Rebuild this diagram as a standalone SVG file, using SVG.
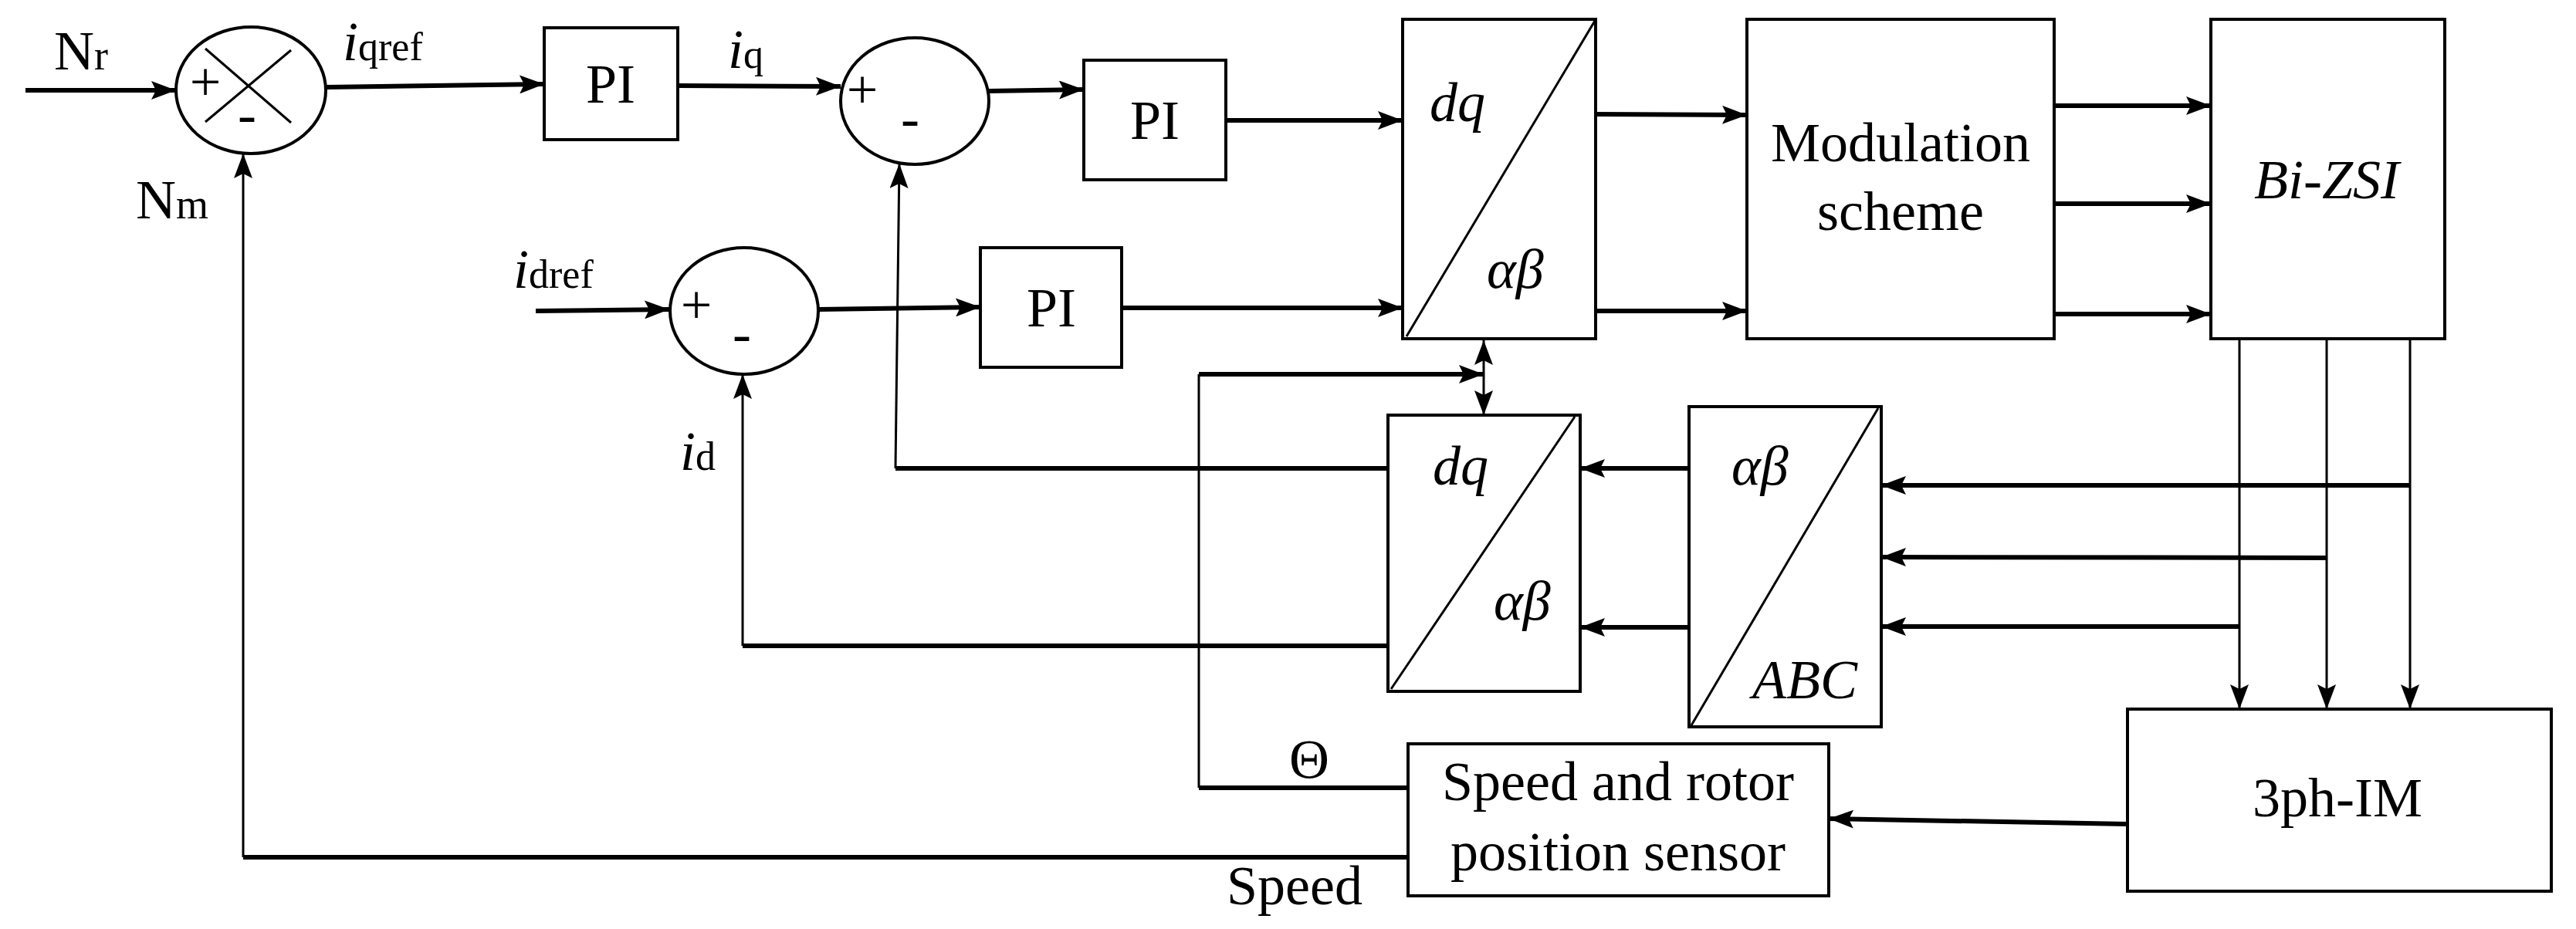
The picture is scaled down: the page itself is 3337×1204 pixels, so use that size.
<svg xmlns="http://www.w3.org/2000/svg" width="3337" height="1204" viewBox="0 0 3337 1204">
<style>
.b{fill:#fff;stroke:#000;stroke-width:4}
.c{fill:none;stroke:#000;stroke-width:4}
.t{font-family:"Liberation Serif",serif;font-size:72px;fill:#000}
.m{text-anchor:middle}
.i{font-style:italic}
.w{fill:none;stroke:#000;stroke-width:6}
.n{fill:none;stroke:#000;stroke-width:3}
</style>
<defs>
<marker id="a" markerUnits="userSpaceOnUse" markerWidth="34" markerHeight="24" refX="32" refY="12" orient="auto"><path d="M0,0 L32,12 L0,24 L6,12 Z" fill="#000"/></marker>
<marker id="s" markerUnits="userSpaceOnUse" markerWidth="34" markerHeight="24" refX="2" refY="12" orient="auto"><path d="M34,0 L2,12 L34,24 L28,12 Z" fill="#000"/></marker>
</defs>
<g id="connectors">
<line class="w" x1="33" y1="117" x2="228" y2="117" marker-end="url(#a)"/>
<line class="w" x1="423" y1="113" x2="705" y2="109" marker-end="url(#a)"/>
<line class="w" x1="878" y1="111" x2="1089" y2="112" marker-end="url(#a)"/>
<line class="w" x1="1281" y1="118" x2="1404" y2="116" marker-end="url(#a)"/>
<line class="w" x1="1588" y1="156" x2="1817" y2="156" marker-end="url(#a)"/>
<line class="w" x1="694" y1="403" x2="867" y2="401" marker-end="url(#a)"/>
<line class="w" x1="1060" y1="401" x2="1270" y2="398" marker-end="url(#a)"/>
<line class="w" x1="1453" y1="399" x2="1817" y2="399" marker-end="url(#a)"/>
<line class="w" x1="2067" y1="148" x2="2263" y2="149" marker-end="url(#a)"/>
<line class="w" x1="2067" y1="403" x2="2263" y2="403" marker-end="url(#a)"/>
<line class="w" x1="2661" y1="137" x2="2864" y2="137" marker-end="url(#a)"/>
<line class="w" x1="2661" y1="264" x2="2864" y2="264" marker-end="url(#a)"/>
<line class="w" x1="2661" y1="407" x2="2864" y2="407" marker-end="url(#a)"/>
<line class="n" x1="1922" y1="441" x2="1922" y2="538" marker-start="url(#s)" marker-end="url(#a)"/>
<line class="w" x1="1824" y1="1021" x2="1553" y2="1021"/>
<line class="n" x1="1553" y1="1021" x2="1553" y2="485"/>
<line class="w" x1="1553" y1="485" x2="1922" y2="485" marker-end="url(#a)"/>
<line class="w" x1="1824" y1="1111" x2="315" y2="1111"/>
<line class="n" x1="315" y1="1111" x2="315" y2="199" marker-end="url(#a)"/>
<line class="w" x1="1798" y1="607" x2="1160" y2="607"/>
<line class="n" x1="1160" y1="607" x2="1165" y2="212" marker-end="url(#a)"/>
<line class="w" x1="1798" y1="837" x2="962" y2="837"/>
<line class="n" x1="962" y1="837" x2="962" y2="485" marker-end="url(#a)"/>
<line class="w" x1="2188" y1="607" x2="2047" y2="607" marker-end="url(#a)"/>
<line class="w" x1="2188" y1="813" x2="2047" y2="813" marker-end="url(#a)"/>
<polyline class="n" points="3122,439 3122,919" marker-end="url(#a)"/>
<polyline class="n" points="3014,439 3014,919" marker-end="url(#a)"/>
<polyline class="n" points="2901,439 2901,919" marker-end="url(#a)"/>
<line class="w" x1="3122" y1="629" x2="2437" y2="629" marker-end="url(#a)"/>
<line class="w" x1="3014" y1="723" x2="2437" y2="722" marker-end="url(#a)"/>
<line class="w" x1="2901" y1="812" x2="2437" y2="812" marker-end="url(#a)"/>
<line class="w" x1="2756" y1="1068" x2="2369" y2="1061" marker-end="url(#a)"/>
</g>
<g id="sum1"><ellipse class="b" cx="325" cy="117" rx="97" ry="82"/><line class="n" x1="266" y1="63" x2="377" y2="159"/><line class="n" x1="377" y1="65" x2="266" y2="158"/><text class="t" x="266" y="130" font-size="60" text-anchor="middle">+</text><text class="t m" x="320" y="172" font-size="60">-</text></g>
<g id="sum2"><ellipse class="b" cx="1185" cy="131" rx="96" ry="82"/><text class="t m" x="1117" y="140" font-size="60">+</text><text class="t m" x="1179" y="177" font-size="60">-</text></g>
<g id="sum3"><ellipse class="b" cx="964" cy="403" rx="96" ry="82"/><text class="t m" x="902" y="419" font-size="60">+</text><text class="t m" x="961" y="456" font-size="60">-</text></g>
<g id="pi1"><rect class="b" x="705" y="36" width="173" height="145"/><text class="t m" x="791" y="133">PI</text></g>
<g id="pi2"><rect class="b" x="1404" y="78" width="184" height="155"/><text class="t m" x="1496" y="180">PI</text></g>
<g id="pi3"><rect class="b" x="1270" y="321" width="183" height="155"/><text class="t m" x="1362" y="423">PI</text></g>
<g id="dqab1"><rect class="b" x="1817" y="25" width="250" height="414"/><line class="n" x1="1822" y1="436" x2="2066" y2="27"/><text class="t i" x="1852" y="157">dq</text><text class="t i" x="1926" y="373">αβ</text></g>
<g id="mod"><rect class="b" x="2263" y="25" width="398" height="414"/><text class="t m" x="2462" y="209" font-size="76">Modulation</text><text class="t m" x="2462" y="298" font-size="76">scheme</text></g>
<g id="bizsi"><rect class="b" x="2864" y="25" width="303" height="414"/><text class="t m i" x="3014" y="257" font-size="76">Bi-ZSI</text></g>
<g id="dqab2"><rect class="b" x="1798" y="538" width="249" height="358"/><line class="n" x1="1802" y1="893" x2="2040" y2="540"/><text class="t i" x="1856" y="628">dq</text><text class="t i" x="1935" y="803">αβ</text></g>
<g id="ababc"><rect class="b" x="2188" y="527" width="249" height="415"/><line class="n" x1="2191" y1="940" x2="2433" y2="529"/><text class="t i" x="2243" y="628">αβ</text><text class="t i" x="2270" y="905">ABC</text></g>
<g id="im"><rect class="b" x="2756" y="919" width="549" height="236"/><text class="t m" x="3028" y="1058">3ph-IM</text></g>
<g id="sensor"><rect class="b" x="1824" y="964" width="545" height="197"/><text class="t m" x="2096" y="1037">Speed and rotor</text><text class="t m" x="2096" y="1128">position sensor</text></g>
<g id="labels">
<text class="t" x="70" y="90" font-size="80">N<tspan font-size="54">r</tspan></text>
<text class="t" x="176" y="283" font-size="76">N<tspan font-size="54">m</tspan></text>
<text class="t" x="444" y="78" font-size="64"><tspan class="i">i</tspan><tspan font-size="52">qref</tspan></text>
<text class="t" x="943" y="88" font-size="64"><tspan class="i">i</tspan><tspan font-size="52">q</tspan></text>
<text class="t" x="665" y="373" font-size="64"><tspan class="i">i</tspan><tspan font-size="52">dref</tspan></text>
<text class="t" x="881" y="609" font-size="64"><tspan class="i">i</tspan><tspan font-size="52">d</tspan></text>
<text class="t m" x="1696" y="1008">Θ</text>
<text class="t m" x="1677" y="1172">Speed</text>
</g>
</svg>
